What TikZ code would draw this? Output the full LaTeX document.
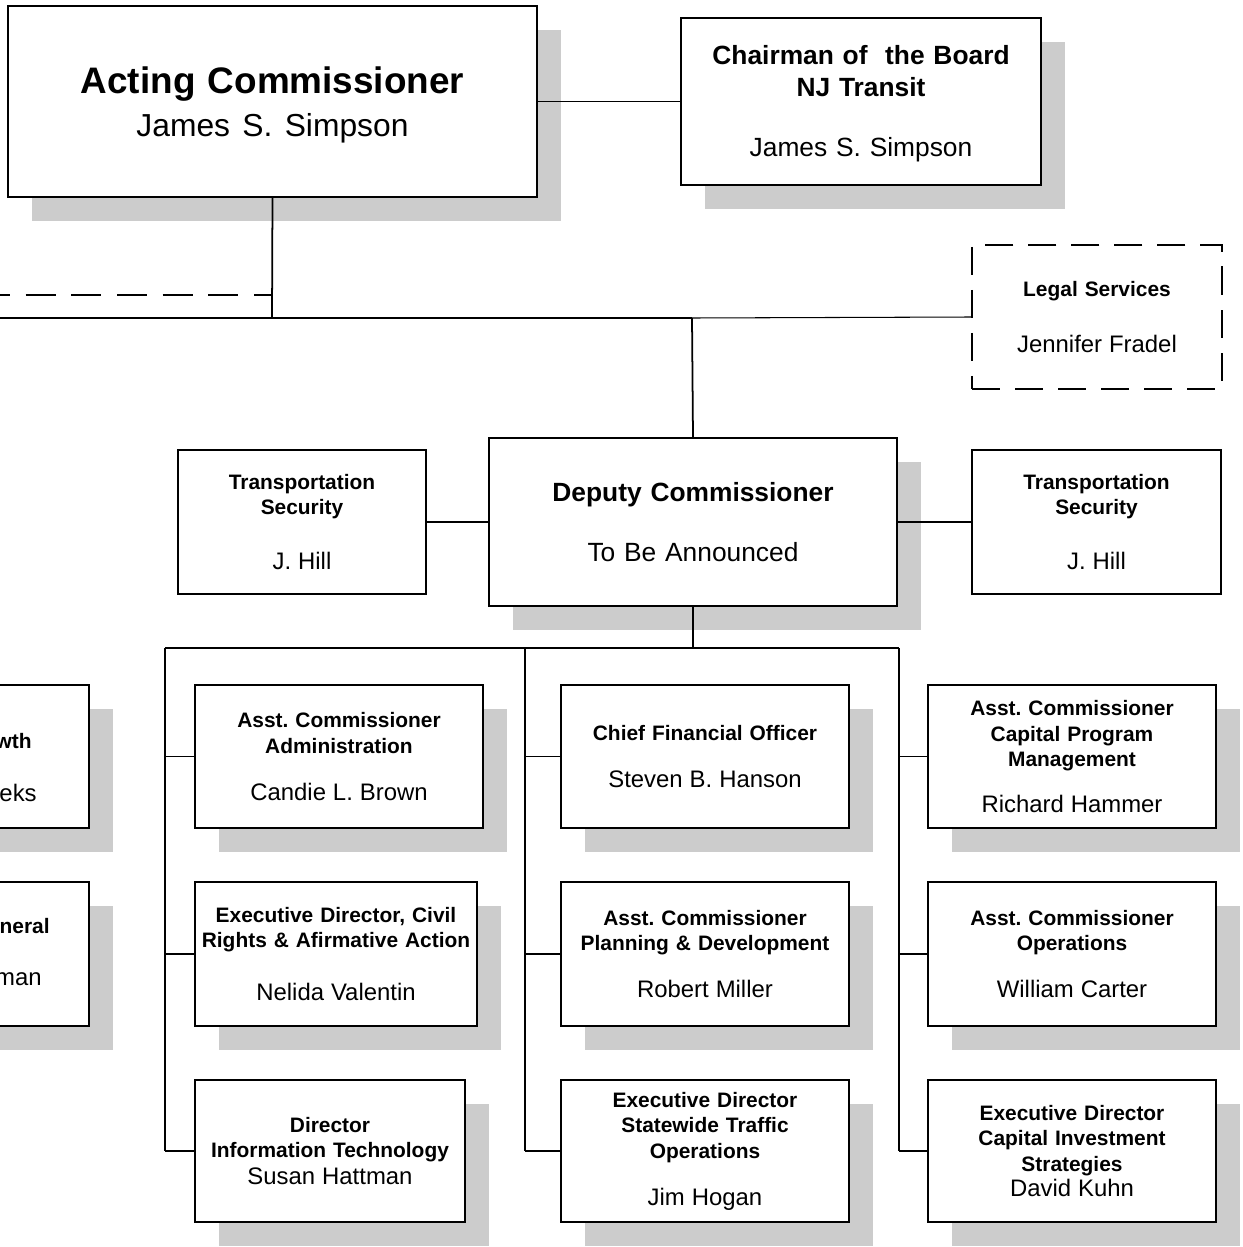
\documentclass[tikz,border=0pt]{standalone}
\usepackage{fontspec}
\setmainfont{Liberation Sans}
\usetikzlibrary{shadows}
\frenchspacing

\newcommand{\ttl}{\bfseries\fontsize{11.9}{14.5}\selectfont}
\newcommand{\nm}{\mdseries\fontsize{13.6}{14.5}\selectfont}

\tikzset{
	office/.style={draw=black, line width=1pt, fill=white, align=center, inner sep=0pt,
		font=\ttl, drop shadow={shadow xshift=0.48cm, shadow yshift=-0.48cm, fill=black!20, opacity=1}},
	flatoffice/.style={draw=black, line width=1pt, fill=white, align=center, inner sep=0pt, font=\ttl},
	staffoffice/.style={draw=black, line width=0.9pt, dash pattern=on 16pt off 8.5pt, align=center, inner sep=0pt, font=\ttl},
	link/.style={draw=black, line width=1pt},
	thinlink/.style={draw=black, line width=0.6pt},
	cut/.style={inner sep=0pt, anchor=east}
}

\begin{document}
\begin{tikzpicture}[x=0.02cm, y=-0.02cm]
	\useasboundingbox (0,0) rectangle (1242,1247);
	\clip (0,0) rectangle (1242,1247);

	% top
	\node[office, text width=10.58cm, minimum height=3.82cm,
		font=\bfseries\fontsize{21}{24.4}\selectfont] (acting) at (272.5,101.5)
		{\rule{0pt}{19.5pt}Acting Commissioner\\{\mdseries\fontsize{18.1}{24.4}\selectfont James S. Simpson}};
	\node[office, text width=7.2cm, minimum height=3.34cm,
		font=\bfseries\fontsize{15}{18.1}\selectfont] (chair) at (861,101.5)
		{\rule{0pt}{13.5pt}Chairman of~ the Board\\NJ Transit\\[15.9pt]{\mdseries James S. Simpson}};
	\node[staffoffice, text width=5cm, minimum height=2.88cm] (legal) at (1097,317)
		{Legal Services\\[17.3pt]{\nm Jennifer Fradel}};

	% deputy row
	\node[office, text width=8.16cm, minimum height=3.36cm,
		font=\bfseries\fontsize{15}{18}\selectfont] (deputy) at (693,522)
		{Deputy Commissioner\\[16.6pt]{\mdseries To Be Announced}};
	\node[flatoffice, text width=4.96cm, minimum height=2.88cm] (secl) at (302,522)
		{Transportation\\Security\\[16.7pt]{\nm J. Hill}};
	\node[flatoffice, text width=4.98cm, minimum height=2.88cm] (secr) at (1096.5,522)
		{Transportation\\Security\\[16.7pt]{\nm J. Hill}};

	% left, cut off
	\node[office, minimum width=5.76cm, minimum height=2.86cm] (growth) at (-55,756.5) {};
	\node[office, minimum width=5.76cm, minimum height=2.88cm] (general) at (-55,954) {};
	\node[cut, font=\ttl] (growthtitle) at (32,741) {wth};
	\node[cut, font=\nm] (growthname) at (37,793) {eks};
	\node[cut, font=\ttl] (generaltitle) at (50,926) {neral};
	\node[cut, font=\nm] (generalname) at (42,979) {man};

	% first column
	\node[office, text width=5.76cm, minimum height=2.86cm] (admin) at (339,756.5)
		{Asst. Commissioner\\Administration\\[12.2pt]{\nm Candie L. Brown}};
	\node[office, text width=5.64cm, minimum height=2.88cm] (civil) at (336,954)
		{Executive Director, Civil\\Rights \& Afirmative Action\\[15.6pt]{\nm Nelida Valentin}};
	\node[office, text width=5.4cm, minimum height=2.84cm] (infotech) at (330,1151)
		{Director\\Information Technology\\[1pt]{\nm Susan Hattman}};

	% second column
	\node[office, text width=5.76cm, minimum height=2.86cm] (cfo) at (705,756.5)
		{Chief Financial Officer\\[12.2pt]{\nm Steven B. Hanson}};
	\node[office, text width=5.76cm, minimum height=2.88cm] (planning) at (705,954)
		{Asst. Commissioner\\Planning \& Development\\[12.2pt]{\nm Robert Miller}};
	\node[office, text width=5.76cm, minimum height=2.84cm] (traffic) at (705,1151)
		{Executive Director\\Statewide Traffic\\Operations\\[12.2pt]{\nm Jim Hogan}};

	% third column
	\node[office, text width=5.76cm, minimum height=2.86cm] (capprog) at (1072,756.5)
		{Asst. Commissioner\\Capital Program\\Management\\[11.6pt]{\nm Richard Hammer}};
	\node[office, text width=5.76cm, minimum height=2.88cm] (ops) at (1072,954)
		{Asst. Commissioner\\Operations\\[12.2pt]{\nm William Carter}};
	\node[office, text width=5.76cm, minimum height=2.84cm] (capinv) at (1072,1151)
		{Executive Director\\Capital Investment\\Strategies\\{\nm David Kuhn}};

	% junctions
	\coordinate (stem) at (272,318);
	\coordinate (dashend) at (272,295);
	\coordinate (dashstart) at (-20,295);
	\coordinate (busl) at (-20,318);
	\coordinate (busm) at (692,318);
	\coordinate (fork) at (693,648);
	\coordinate (forkl) at (165,648);
	\coordinate (forkm) at (525,648);
	\coordinate (forkr) at (899,648);
	\coordinate (c1a) at (165,756.5);
	\coordinate (c1b) at (165,954);
	\coordinate (c1c) at (165,1151);
	\coordinate (c2a) at (525,756.5);
	\coordinate (c2b) at (525,954);
	\coordinate (c2c) at (525,1151);
	\coordinate (c3a) at (899,756.5);
	\coordinate (c3b) at (899,954);
	\coordinate (c3c) at (899,1151);

	\path[link] (acting) edge (chair);
	\path[link] (acting.south) edge (stem);
	\path[link, dash pattern=on 17pt off 9pt] (dashstart) edge (dashend);
	\path[link] (busl) edge (busm);
	\path[thinlink] (busm) edge (legal.west);
	\path[link] (busm) edge (deputy.north);
	\path[link] (secl) edge (deputy);
	\path[thinlink] (deputy) edge (secr);
	\path[link] (deputy.south) edge (fork);
	\path[link] (forkl) edge (forkr);
	\path[link] (forkl) edge (c1c);
	\path[link] (forkm) edge (c2c);
	\path[link] (forkr) edge (c3c);
	\path[link] (c1a) edge (admin.west);
	\path[link] (c1b) edge (civil.west);
	\path[link] (c1c) edge (infotech.west);
	\path[link] (c2a) edge (cfo.west);
	\path[link] (c2b) edge (planning.west);
	\path[link] (c2c) edge (traffic.west);
	\path[link] (c3a) edge (capprog.west);
	\path[link] (c3b) edge (ops.west);
	\path[link] (c3c) edge (capinv.west);
\end{tikzpicture}
\end{document}
